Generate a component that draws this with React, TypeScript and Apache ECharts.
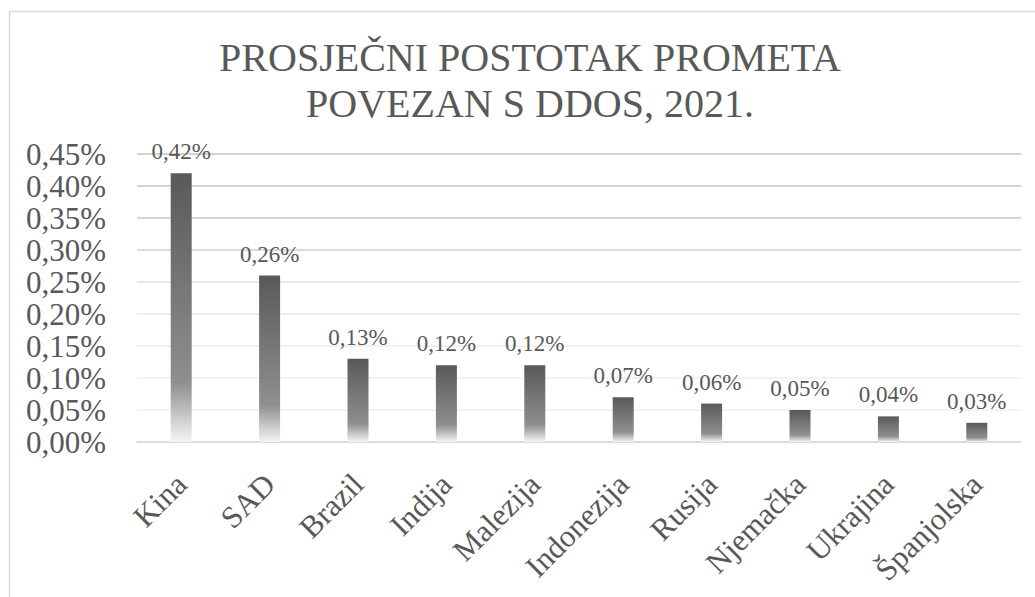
import React, { useEffect, useRef } from "react";
import * as echarts from "echarts";

const categories = ["Kina", "SAD", "Brazil", "Indija", "Malezija", "Indonezija", "Rusija", "Njemačka", "Ukrajina", "Španjolska"];
const values = [0.42, 0.26, 0.13, 0.12, 0.12, 0.07, 0.06, 0.05, 0.04, 0.03];
const yMin = 0;
const yMax = 0.45;
const yInterval = 0.05;
const titleLines = ["PROSJEČNI POSTOTAK PROMETA", "POVEZAN S DDOS, 2021."];

const FONT = "Liberation Serif";
const TEXT = "#595959";

const fmt = (v: number) => v.toFixed(2).replace(".", ",") + "%";

export default function App() {
  const ref = useRef<HTMLDivElement>(null);
  useEffect(() => {
    if (!ref.current) return;
    const chart = echarts.init(ref.current, null, { renderer: "svg" });
    const barColor = new echarts.graphic.LinearGradient(0, 0, 0, 1, [
      { offset: 0, color: "#595959" },
      { offset: 0.78, color: "#8f8f8f" },
      { offset: 1, color: "#f5f5f5" },
    ]);
    chart.setOption({
      animation: false,
      backgroundColor: "#ffffff",
      title: {
        text: titleLines.join("\n"),
        left: 530,
        top: 34,
        textAlign: "center",
        padding: 0,
        textStyle: {
          fontFamily: FONT,
          fontSize: 40,
          lineHeight: 46,
          fontWeight: "normal",
          color: TEXT,
        },
      },
      graphic: [
        {
          type: "rect",
          shape: { x: 9.5, y: 11.5, width: 1100, height: 700 },
          style: { fill: "none", stroke: "#d9d9d9", lineWidth: 1.5 },
          silent: true,
        },
      ],
      grid: { left: 137, right: 14, top: 154, bottom: 155, containLabel: false },
      xAxis: {
        type: "category",
        data: categories,
        axisLine: { show: true, lineStyle: { color: "#d9d9d9", width: 1.5 } },
        axisTick: { show: false },
        axisLabel: {
          rotate: 45,
          interval: 0,
          margin: 37,
          fontFamily: FONT,
          fontSize: 31,
          color: TEXT,
        },
      },
      yAxis: {
        type: "value",
        min: yMin,
        max: yMax,
        interval: yInterval,
        axisLine: { show: false },
        axisTick: { show: false },
        axisLabel: {
          formatter: (v: number) => fmt(v),
          margin: 31,
          fontFamily: FONT,
          fontSize: 31,
          color: TEXT,
        },
        splitLine: {
          lineStyle: {
            width: 1.5,
            color: ["#d9d9d9", "#efefef", "#efefef", "#ececec", "#e8e8e8", "#e2e2e2", "#cfcfcf", "#c8c8c8", "#c6c6c6", "#c6c6c6"],
          },
        },
      },
      series: [
        {
          type: "bar",
          data: values,
          barWidth: 21,
          itemStyle: { color: barColor },
          label: {
            show: true,
            position: "top",
            distance: 10,
            formatter: (p: any) => fmt(p.value),
            fontFamily: FONT,
            fontSize: 23,
            color: TEXT,
          },
        },
      ],
    });
    return () => chart.dispose();
  }, []);
  return (
    <div
      ref={ref}
      style={{ position: "fixed", left: 0, top: 0, width: 1035, height: 597 }}
    />
  );
}
